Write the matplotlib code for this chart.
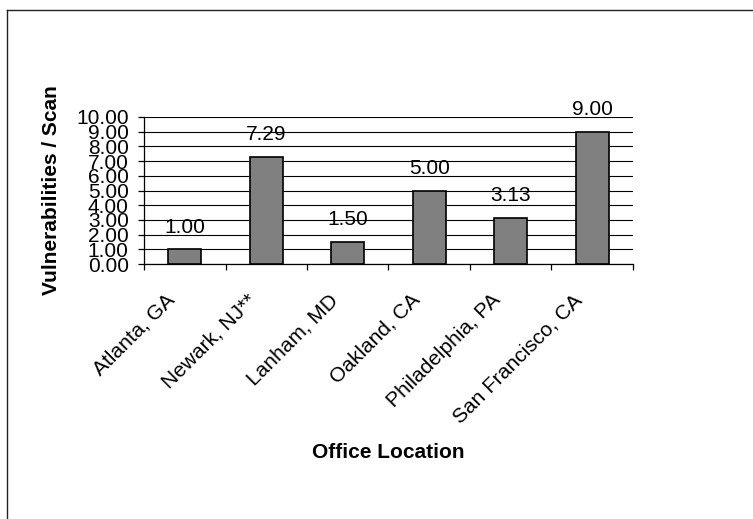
import matplotlib
matplotlib.use("Agg")
import matplotlib.pyplot as plt
import matplotlib.transforms as mtransforms
from matplotlib.lines import Line2D

# data
offices = ["Atlanta, GA", "Newark, NJ**", "Lanham, MD", "Oakland, CA",
           "Philadelphia, PA", "San Francisco, CA"]
vulns_per_scan = [1.00, 7.29, 1.50, 5.00, 3.13, 9.00]
y_ticks = [0, 1, 2, 3, 4, 5, 6, 7, 8, 9, 10]

plt.rcParams['font.family'] = ['Liberation Sans', 'DejaVu Sans']
plt.rcParams['font.size'] = 15

W, H = 753, 519
fig = plt.figure(figsize=(W / 100, H / 100), dpi=100)

# plot area in pixels: left 144, right 633, top 117, bottom 264
ax = fig.add_axes([144 / W, 1 - 264 / H, (633 - 144) / W, (264 - 117) / H])

x = list(range(len(offices)))
ax.bar(x, vulns_per_scan, width=0.4, color="#808080", edgecolor="black",
       linewidth=1.2, zorder=3)

for xi, v in zip(x, vulns_per_scan):
    ax.annotate(f"{v:.2f}", (xi, v), xytext=(0, 12), textcoords="offset points",
                ha="center", va="baseline", fontsize=15)

ax.set_xlim(-0.5, len(offices) - 0.5)
ax.set_ylim(0, 10)
ax.set_yticks(y_ticks)
ax.set_yticklabels([f"{t:.2f}" for t in y_ticks])
ax.yaxis.grid(True, color="black", linewidth=0.8, zorder=0)
ax.set_axisbelow(True)

for side in ["top", "right"]:
    ax.spines[side].set_visible(False)
for side in ["left", "bottom"]:
    ax.spines[side].set_linewidth(0.9)

ax.tick_params(axis="y", length=4, width=0.9, pad=7, direction="out")

# category labels at centres, tick marks at the boundaries
ax.set_xticks(x)
ax.set_xticklabels(offices, rotation=45, ha="right", va="top",
                   rotation_mode="anchor")
ax.set_xticks([i - 0.5 for i in range(len(offices) + 1)], minor=True)
ax.tick_params(axis="x", which="major", length=0, pad=19)
ax.tick_params(axis="x", which="minor", length=4.5, width=0.9, direction="out")
shift = mtransforms.ScaledTranslation(-14 / 72, 0, fig.dpi_scale_trans)
for lab in ax.get_xticklabels():
    lab.set_transform(lab.get_transform() + shift)

fig.text(388.5 / W, 1 - 452 / H, "Office Location", ha="center", va="center",
         fontsize=15, fontweight="bold")
fig.text(52 / W, 1 - 190.5 / H, "Vulnerabilities / Scan", ha="center",
         va="center", rotation=90, fontsize=15, fontweight="bold")

# chart-area border (top and left edges visible)
fig.add_artist(Line2D([7 / W, 1], [1 - 10 / H, 1 - 10 / H], color="#222222",
                      linewidth=1.0, transform=fig.transFigure))
fig.add_artist(Line2D([7 / W, 7 / W], [0, 1 - 10 / H], color="#222222",
                      linewidth=1.0, transform=fig.transFigure))

fig.savefig("out.png", dpi=100)
